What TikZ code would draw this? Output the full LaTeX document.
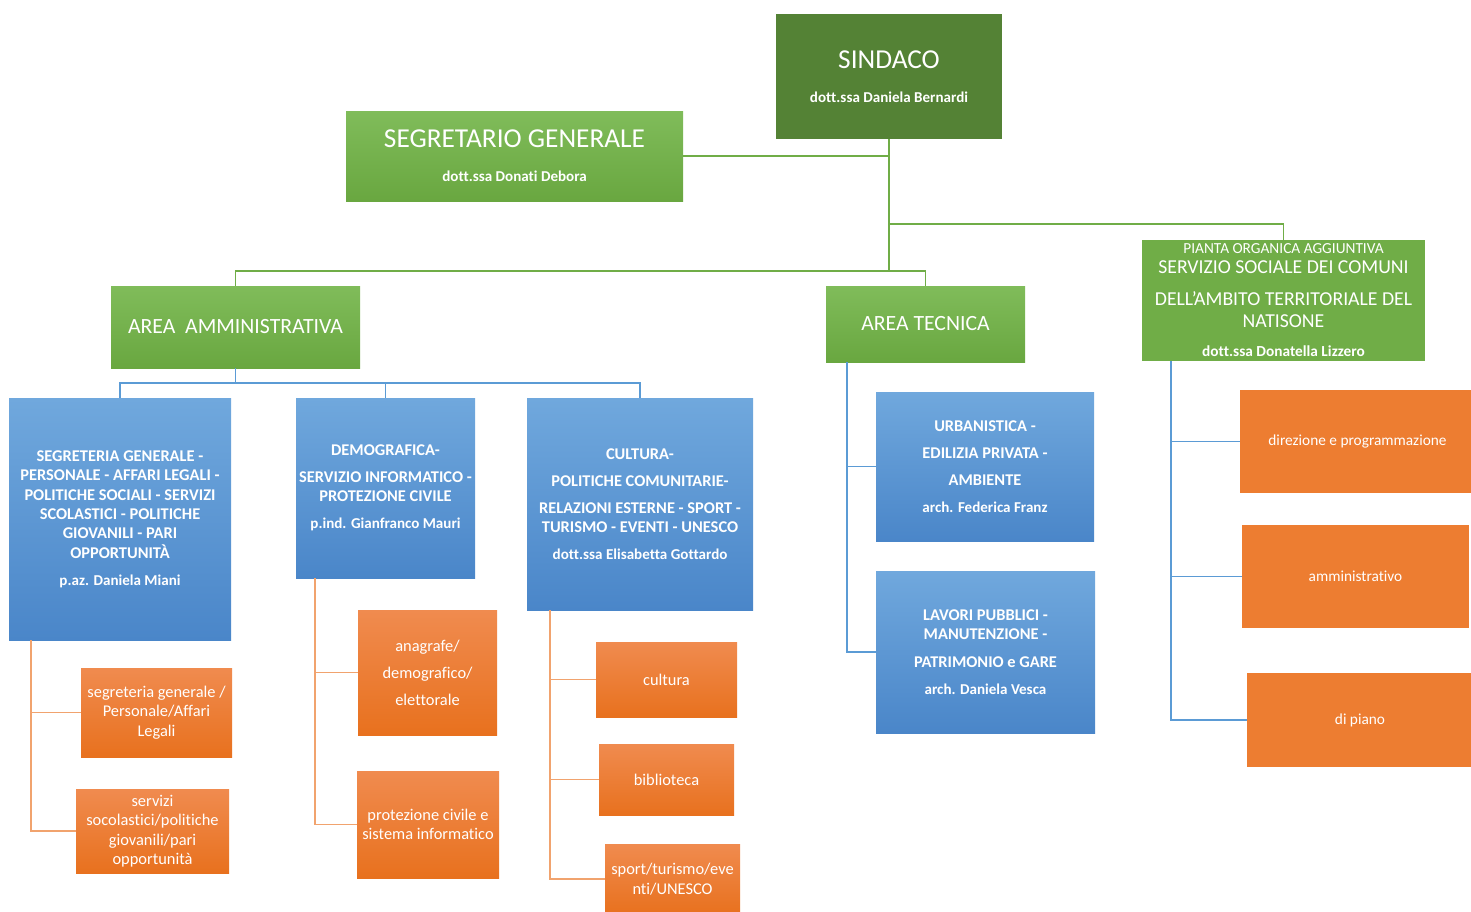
\documentclass[tikz,border=0pt]{standalone}
\usepackage{fontspec}
\setmainfont[Ligatures=NoCommon]{Carlito}
\usepackage{tikz}
\usetikzlibrary{positioning,calc}
\definecolor{verdescuro}{HTML}{548235}
\definecolor{verde}{HTML}{70AD47}
\definecolor{verdesu}{HTML}{80BC5A}
\definecolor{verdegiu}{HTML}{69A740}
\definecolor{blu}{HTML}{5B9BD5}
\definecolor{blusu}{HTML}{70A8DD}
\definecolor{blugiu}{HTML}{4A86C9}
\definecolor{arancio}{HTML}{ED7D31}
\definecolor{aranciosu}{HTML}{F08B4F}
\definecolor{aranciogiu}{HTML}{E8711E}
\definecolor{aranciolinea}{HTML}{F1A36E}
\newcommand{\fs}[2]{\fontsize{#1}{#2}\selectfont}
\newcommand{\nome}[1]{{\fs{11.3}{14.5}#1}}
\tikzset{
  box/.style 2 args={minimum width=#1*0.75pt, minimum height=#2*0.75pt},
  base/.style={rectangle, inner sep=0pt, align=center, text=white},
  sindaco/.style={base, fill=verdescuro, font=\bfseries\fs{11.3}{25.5}},
  capo/.style={base, top color=verdesu, bottom color=verdegiu, font=\bfseries\fs{11.3}{25.5}},
  area/.style={base, top color=verdesu, bottom color=verdegiu, font=\fs{16.3}{19}},
  aggiuntiva/.style={base, fill=verde, font=\fs{14.8}{15}},
  settore/.style={base, top color=blusu, bottom color=blugiu, font=\bfseries\fs{12.3}{14.5}},
  ufficio/.style={base, top color=aranciosu, bottom color=aranciogiu, font=\fs{12.3}{14.5}},
  servizio/.style={base, fill=arancio, font=\fs{11.5}{14}},
  gline/.style={draw=verde, line width=1.4pt},
  bline/.style={draw=blu, line width=1.4pt},
  oline/.style={draw=aranciolinea, line width=1.4pt}
}
\begin{document}
\begin{tikzpicture}[x=0.75pt, y=-0.75pt]
  \useasboundingbox (0,0) rectangle (1471,911);
  % vertice
  \node[sindaco, box={226}{125}] (sindaco) at (889,76.5)
    {{\mdseries\fs{20.5}{25.5}SINDACO}\\dott.ssa Daniela Bernardi};
  \node[capo, box={337}{90}] (segr) at (514.5,156)
    {{\mdseries\fs{20.5}{25.5}SEGRETARIO GENERALE}\\dott.ssa Donati Debora};
  % aree
  \node[area, box={249}{82}] (amm) at (235.5,327) {AREA\ \ AMMINISTRATIVA};
  \node[area, box={199}{76}] (tec) at (925.5,324) {AREA TECNICA};
  \node[aggiuntiva, box={283}{121}] (pianta) at (1283.5,300.5)
    {{\fs{11.5}{15}PIANTA ORGANICA AGGIUNTIVA}\\
     SERVIZIO SOCIALE DEI COMUNI\\[9pt]
     DELL'AMBITO TERRITORIALE DEL\\[1.5pt]
     NATISONE\\[6.75pt]
     {\bfseries\fs{11.5}{15}dott.ssa Donatella Lizzero}};
  % settori
  \node[settore, box={222}{242}] (set1) at (120,519)
    {SEGRETERIA GENERALE -\\PERSONALE - AFFARI LEGALI -\\
     POLITICHE SOCIALI - SERVIZI\\SCOLASTICI - POLITICHE\\
     GIOVANILI - PARI\\OPPORTUNITÀ\\[5.8pt]\nome{p.az. Daniela Miani}};
  \node[settore, box={179}{180}] (set2) at (385.5,488)
    {DEMOGRAFICA-\\[5.8pt]SERVIZIO INFORMATICO -\\PROTEZIONE CIVILE\\[5.8pt]
     \nome{p.ind. Gianfranco Mauri}};
  \node[settore, box={226}{212}] (set3) at (640,504)
    {CULTURA-\\[5.8pt]POLITICHE COMUNITARIE-\\[5.8pt]
     RELAZIONI ESTERNE - SPORT -\\TURISMO - EVENTI - UNESCO\\[5.8pt]
     \nome{dott.ssa Elisabetta Gottardo}};
  \node[settore, box={218}{149}] (urb) at (985,466.5)
    {URBANISTICA -\\[5.8pt]EDILIZIA PRIVATA -\\[5.8pt]AMBIENTE\\[5.8pt]
     \nome{arch. Federica Franz}};
  \node[settore, box={219}{162}] (lav) at (985.5,652)
    {LAVORI PUBBLICI -\\MANUTENZIONE -\\[5.8pt]PATRIMONIO e GARE\\[5.8pt]
     \nome{arch. Daniela Vesca}};
  % uffici
  \node[ufficio, box={151}{89}] (uff1) at (156.5,712.5)
    {segreteria generale /\\Personale/Affari\\Legali};
  \node[ufficio, box={153}{84}] (uff2) at (152.5,831)
    {servizi\\socolastici/politiche\\giovanili/pari\\opportunità};
  \node[ufficio, box={139}{125}] (uff3) at (427.5,672.5)
    {anagrafe/\\[5.8pt]demografico/\\[5.8pt]elettorale};
  \node[ufficio, box={142}{107}] (uff4) at (428,824.5)
    {protezione civile e\\sistema informatico};
  \node[ufficio, box={141}{75}] (uff5) at (666.5,679.5) {cultura};
  \node[ufficio, box={135}{71}] (uff6) at (666.5,779.5) {biblioteca};
  \node[ufficio, box={135}{70}] (uff7) at (672.5,879)
    {sport/turismo/eve\\nti/UNESCO};
  \node[servizio, box={235}{103}] (dir) at (1357.5,441.5) {direzione e programmazione};
  \node[servizio, box={227}{103}] (ammv) at (1355.5,576.5) {amministrativo};
  \node[servizio, box={226}{94}] (piano) at (1360,720) {di piano};
  % collegamenti
  \coordinate (nodo) at (889,271);
  \coordinate (nodop) at (889,224);
  \draw[gline] (sindaco.south) -- (nodo);
  \draw[gline] (segr.east) -- (segr.east -| sindaco.south);
  \draw[gline] (pianta.north) |- (nodop);
  \draw[gline] (amm.north) |- (nodo);
  \draw[gline] (tec.north) |- (nodo);
  \coordinate (nodoa) at ($(amm.south)+(0,15)$);
  \draw[bline] (amm.south) -- (nodoa);
  \draw[bline] (set1.north) |- (nodoa);
  \draw[bline] (set3.north) |- (nodoa);
  \draw[bline] (set2.north) -- (set2.north |- nodoa);
  \coordinate (ta) at ($(tec.south west)+(21,0)$);
  \draw[bline] (ta) |- (urb.west);
  \draw[bline] (ta) |- (lav.west);
  \coordinate (pa) at ($(pianta.south west)+(29,0)$);
  \draw[bline] (pa) |- (dir.west);
  \draw[bline] (pa) |- (ammv.west);
  \draw[bline] (pa) |- (piano.west);
  \coordinate (s1) at ($(set1.south west)+(22,0)$);
  \draw[oline] (s1) |- (uff1.west);
  \draw[oline] (s1) |- (uff2.west);
  \coordinate (s2) at ($(set2.south west)+(19,0)$);
  \draw[oline] (s2) |- (uff3.west);
  \draw[oline] (s2) |- (uff4.west);
  \coordinate (s3) at ($(set3.south west)+(23,0)$);
  \draw[oline] (s3) |- (uff5.west);
  \draw[oline] (s3) |- (uff6.west);
  \draw[oline] (s3) |- (uff7.west);
\end{tikzpicture}
\end{document}
